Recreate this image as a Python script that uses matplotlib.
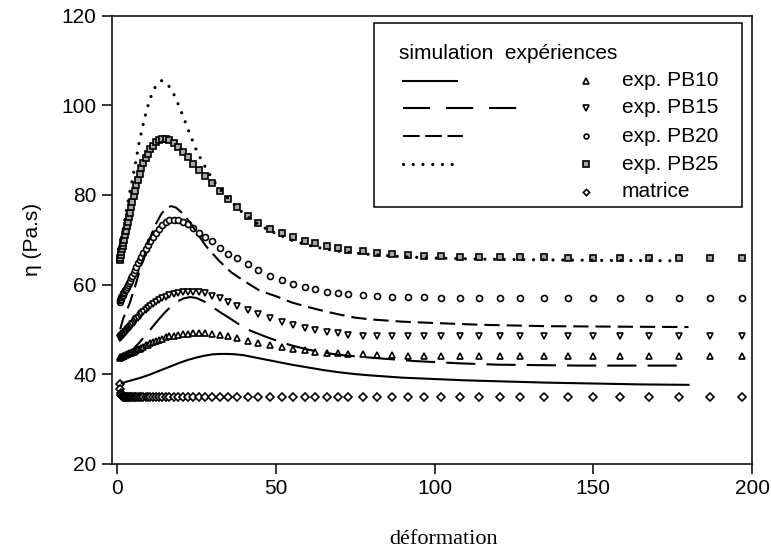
import matplotlib
matplotlib.use("Agg")
import matplotlib.pyplot as plt
from matplotlib.lines import Line2D
from matplotlib.patches import Rectangle

plt.rcParams["font.family"] = ["Liberation Sans", "DejaVu Sans"]
plt.rcParams["lines.scale_dashes"] = False

# --- experimental data (shared strain sampling) ---
strain = [0.8, 1.0, 1.2, 1.4, 1.6, 1.8, 2.0, 2.2, 2.5, 2.8, 3.1, 3.4, 3.7, 4.0,
          4.4, 4.8, 5.2, 5.6, 6.1, 6.6, 7.1, 7.7, 8.3, 9.0, 9.7, 10.5, 11.3,
          12.2, 13.2, 14.2, 15.3, 16.5, 17.8, 19.2, 20.7, 22.3, 24.0, 25.8,
          27.8, 30.0, 32.4, 35.0, 37.7, 41.3, 44.5, 48.2, 51.9, 55.5, 59.2,
          62.4, 66.0, 69.5, 72.9, 77.6, 82.0, 86.5, 91.5, 96.7, 102.0, 108.0,
          114.0, 120.5, 127.0, 134.6, 142.0, 150.0, 158.4, 167.6, 176.9,
          186.8, 197.0]

exp_pb10 = [43.7, 43.8, 43.8, 43.9, 43.9, 44.0, 44.0, 44.1, 44.2, 44.3, 44.4,
            44.5, 44.6, 44.7, 44.8, 44.9, 45.0, 45.1, 45.3, 45.5, 45.7, 45.9,
            46.1, 46.4, 46.6, 46.9, 47.1, 47.4, 47.7, 47.9, 48.2, 48.4, 48.6,
            48.8, 48.9, 49.0, 49.1, 49.1, 49.1, 49.0, 48.8, 48.5, 48.1, 47.5,
            47.0, 46.5, 46.1, 45.7, 45.3, 45.0, 44.8, 44.6, 44.5, 44.4, 44.3,
            44.2, 44.1, 44.1, 44.0, 44.0, 44.0, 44.0, 44.0, 44.0, 44.0, 44.0,
            44.0, 44.0, 44.0, 44.0, 44.0]

exp_pb15 = [48.0, 48.1, 48.3, 48.4, 48.6, 48.7, 48.9, 49.0, 49.3, 49.5, 49.8,
            50.0, 50.3, 50.5, 50.8, 51.1, 51.5, 51.8, 52.2, 52.6, 53.0, 53.4,
            53.8, 54.3, 54.7, 55.2, 55.6, 56.1, 56.5, 56.9, 57.3, 57.6, 57.9,
            58.1, 58.3, 58.4, 58.4, 58.3, 58.0, 57.5, 56.9, 56.1, 55.3, 54.3,
            53.4, 52.5, 51.7, 51.0, 50.4, 49.9, 49.5, 49.1, 48.8, 48.6, 48.5,
            48.4, 48.4, 48.4, 48.4, 48.4, 48.4, 48.4, 48.4, 48.4, 48.4, 48.4,
            48.4, 48.4, 48.4, 48.4, 48.4]

exp_pb20 = [56.2, 56.5, 56.8, 57.1, 57.4, 57.7, 58.0, 58.3, 58.7, 59.1, 59.5,
            59.9, 60.3, 60.8, 61.4, 62.0, 62.6, 63.2, 64.0, 64.7, 65.4, 66.2,
            67.0, 67.9, 68.8, 69.8, 70.7, 71.6, 72.5, 73.3, 73.9, 74.3, 74.5,
            74.4, 74.0, 73.4, 72.6, 71.6, 70.6, 69.6, 68.1, 66.8, 66.0, 64.5,
            63.2, 61.8, 60.9, 60.1, 59.4, 58.9, 58.4, 58.0, 57.8, 57.6, 57.4,
            57.3, 57.2, 57.1, 57.0, 57.0, 56.9, 56.9, 56.9, 56.9, 56.9, 56.9,
            56.9, 56.9, 56.9, 56.9, 56.9]

exp_pb25 = [65.5, 66.0, 66.6, 67.3, 68.0, 68.6, 69.3, 70.0, 71.0, 72.0, 73.0,
            74.0, 75.0, 76.0, 77.3, 78.5, 79.7, 80.8, 82.2, 83.4, 84.6, 85.9,
            87.1, 88.2, 89.2, 90.2, 91.0, 91.7, 92.2, 92.5, 92.5, 92.2, 91.5,
            90.6, 89.6, 88.4, 87.0, 85.6, 84.2, 82.6, 80.9, 79.0, 77.4, 75.3,
            73.7, 72.4, 71.4, 70.6, 69.8, 69.2, 68.6, 68.2, 67.8, 67.4, 67.1,
            66.8, 66.6, 66.4, 66.3, 66.2, 66.2, 66.1, 66.1, 66.1, 66.0, 66.0,
            66.0, 66.0, 66.0, 66.0, 66.0]

exp_matrice = [37.8, 36.6, 35.8, 35.4, 35.2, 35.1, 35.0, 35.0, 35.0, 35.0,
               35.0, 35.0, 35.0, 35.0, 35.0, 35.0, 35.0, 35.0, 35.0, 35.0,
               35.0, 35.0, 35.0, 35.0, 35.0, 35.0, 35.0, 35.0, 35.0, 35.0,
               35.0, 35.0, 35.0, 35.0, 35.0, 35.0, 35.0, 35.0, 35.0, 35.0,
               35.0, 35.0, 35.0, 35.0, 35.0, 35.0, 35.0, 35.0, 35.0, 35.0,
               35.0, 35.0, 35.0, 35.0, 35.0, 35.0, 35.0, 35.0, 35.0, 35.0,
               35.0, 35.0, 35.0, 35.0, 35.0, 35.0, 35.0, 35.0, 35.0, 35.0,
               35.0]

# --- simulations ---
sim_pb10_x = [1.5, 3, 5, 7.5, 10, 12.5, 15, 17.5, 20, 22.5, 25, 27.5, 30, 32.5,
              35, 37.5, 40, 45, 50, 55, 60, 65, 70, 75, 80, 90, 100, 110, 120,
              135, 150, 165, 180]
sim_pb10 = [38.0, 38.3, 38.7, 39.2, 39.8, 40.5, 41.2, 41.9, 42.6, 43.2, 43.7,
            44.1, 44.4, 44.5, 44.5, 44.4, 44.2, 43.5, 42.8, 42.1, 41.5, 40.9,
            40.4, 40.0, 39.7, 39.2, 38.9, 38.6, 38.4, 38.1, 37.9, 37.7, 37.6]

sim_pb15_x = [1.5, 3, 4.6, 7, 10, 13, 15, 17, 19, 21, 23, 25, 27.5, 30, 32.5,
              35, 38, 42, 47, 51, 55, 60, 65, 70, 76, 83, 94, 108, 120, 133,
              146, 160, 177]
sim_pb15 = [43.6, 44.3, 45.2, 47.0, 49.5, 52.1, 53.7, 55.1, 56.2, 56.9, 57.2,
            57.0, 56.2, 55.0, 53.8, 52.7, 51.3, 49.7, 48.3, 47.3, 46.4, 45.5,
            44.8, 44.3, 43.9, 43.5, 42.9, 42.4, 42.1, 42.0, 41.9, 41.9, 41.9]

sim_pb20_x = [1, 2, 4, 6, 8, 10, 12, 14, 15.5, 17, 18.5, 20, 21.5, 23, 25, 28,
              32, 36, 40, 45, 50, 55, 60, 65, 70, 75, 80, 90, 100, 115, 135,
              155, 180]
sim_pb20 = [50.0, 52.5, 55.8, 60.3, 65.2, 69.6, 73.2, 75.8, 77.0, 77.5, 77.2,
            76.3, 75.2, 73.8, 71.7, 68.6, 65.4, 62.7, 60.8, 58.6, 57.4, 56.0,
            55.0, 54.1, 53.3, 52.6, 52.2, 51.7, 51.4, 51.0, 50.7, 50.6, 50.5]

sim_pb25_x = [0.5, 1, 2, 3, 4, 5, 6, 7, 8, 9, 10, 11, 12, 13, 14, 15, 16, 17,
              18, 19.5, 21, 23, 25, 27, 29, 31, 33, 35, 38, 42, 46, 50, 55, 60,
              65, 70, 78, 90, 100, 120, 150, 175]
sim_pb25 = [68.0, 69.5, 72.5, 76.7, 80.5, 84.0, 87.8, 91.8, 95.0, 98.0, 100.6,
            102.5, 104.0, 105.0, 105.5, 105.3, 104.6, 103.6, 102.3, 99.9, 97.2,
            93.5, 90.0, 87.2, 84.8, 82.6, 80.8, 79.2, 77.0, 74.6, 72.8, 71.4,
            69.9, 68.8, 68.0, 67.4, 66.8, 66.2, 65.9, 65.6, 65.4, 65.3]

exp_labels = ["exp. PB10", "exp. PB15", "exp. PB20", "exp. PB25", "matrice"]

W, H = 771, 554
fig = plt.figure(figsize=(W / 100, H / 100), dpi=100)


def fp(x, y):
    return x / W, 1 - y / H


ax = fig.add_axes([111.7 / W, 1 - 463.7 / H, (752 - 111.7) / W, (463.7 - 15.7) / H])

mk = dict(ls="none", mec="black", mew=1.2)
exp_series = [(exp_pb10, "^", "white", 5), (exp_pb15, "v", "white", 5),
              (exp_pb20, "o", "white", 4.3), (exp_pb25, "s", "#a8a8a8", 4.6),
              (exp_matrice, "D", "white", 4.0)]
for ys, m, fc, s in exp_series:
    ax.plot(strain, ys, marker=m, mfc=fc, ms=s, **mk)

sim_styles = [
    (sim_pb10_x, sim_pb10, dict(ls="-", lw=1.5)),
    (sim_pb15_x, sim_pb15, dict(ls=(0, (21, 8)), lw=1.5)),
    (sim_pb20_x, sim_pb20, dict(ls=(0, (11, 5)), lw=1.5)),
    (sim_pb25_x, sim_pb25, dict(ls=(0, (0.01, 7)), lw=2.3, dash_capstyle="round")),
]
for xs, ys, st in sim_styles:
    ax.plot(xs, ys, color="black", **st)

ax.set_xlim(-1.67, 200)
ax.set_ylim(20, 120)
ax.set_xticks([0, 50, 100, 150, 200])
ax.set_yticks([20, 40, 60, 80, 100, 120])
ax.tick_params(direction="out", length=7, width=1.1, labelsize=15, pad=4)
ax.tick_params(top=False, right=False)
for sp in ax.spines.values():
    sp.set_linewidth(1.1)

ax.set_ylabel("η (Pa.s)", fontsize=15, labelpad=14)
fig.text(444 / W, 1 - 540 / H, "déformation", fontsize=16,
         family="Liberation Serif", ha="center", va="center")

# --- legend drawn by hand ---
fig.add_artist(Rectangle(fp(374, 207), (741.7 - 374) / W, (207 - 23.3) / H,
                         transform=fig.transFigure, facecolor="white",
                         edgecolor="black", lw=1.1))
fig.text(*fp(399, 53.3), "simulation  expériences", fontsize=15,
         ha="left", va="center")

row_y = [80.7, 107.7, 136.4, 164.4, 191.8]
leg_lines = [
    (457, dict(ls="-", lw=1.5)),
    (517, dict(ls=(0, (19.5, 11.5)), lw=1.5)),
    (463, dict(ls=(0, (12, 4)), lw=1.5)),
    (453, dict(ls=(0, (0.01, 7)), lw=2.3, dash_capstyle="round")),
]
for (x1, st), y in zip(leg_lines, row_y):
    (a, b), (c, d) = fp(403, y), fp(x1, y)
    fig.add_artist(Line2D([a, c], [b, d], transform=fig.transFigure,
                          color="black", **st))

for (ys, m, fc, s), lab, y in zip(exp_series, exp_labels, row_y):
    px, py = fp(586, y)
    fig.add_artist(Line2D([px], [py], transform=fig.transFigure, marker=m,
                          mfc=fc, ms=s * 0.8, **mk))
    fig.text(*fp(622, y), lab, fontsize=15, ha="left", va="center")

fig.savefig("out.png", dpi=100)
